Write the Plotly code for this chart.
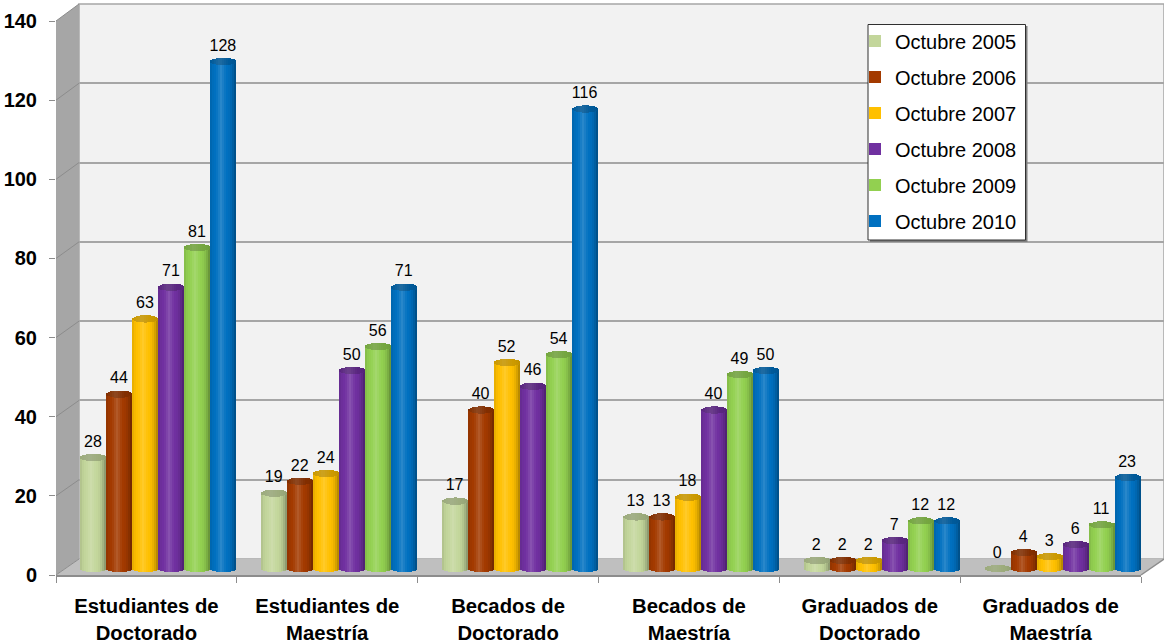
import plotly.graph_objects as go

categories = ["Estudiantes de<br>Doctorado", "Estudiantes de<br>Maestría", "Becados de<br>Doctorado",
              "Becados de<br>Maestría", "Graduados de<br>Doctorado", "Graduados de<br>Maestría"]
series_names = ["Octubre 2005", "Octubre 2006", "Octubre 2007", "Octubre 2008", "Octubre 2009", "Octubre 2010"]
oct_2005 = [28, 19, 17, 13, 2, 0]
oct_2006 = [44, 22, 40, 13, 2, 4]
oct_2007 = [63, 24, 52, 18, 2, 3]
oct_2008 = [71, 50, 46, 40, 7, 6]
oct_2009 = [81, 56, 54, 49, 12, 11]
oct_2010 = [128, 71, 116, 50, 12, 23]
series_values = [oct_2005, oct_2006, oct_2007, oct_2008, oct_2009, oct_2010]
colors = ["#c3d69b", "#a33a00", "#ffc000", "#7030a0", "#92d050", "#0070c0"]
y_ticks = [0, 20, 40, 60, 80, 100, 120, 140]

W, H = 1164, 642
FRONT_L, FRONT_R, FRONT_T, FRONT_B = 56, 1141, 21, 575
BACK_L, BACK_R, BACK_T, BACK_B = 79, 1164, 4, 559
BAR_L, BAR_R = 67.5, 1152.5
BAR_Y0, PX_PER_UNIT = 568, 3.96
CAP_PX, BAR_PX, STRIPS = 3.6, 26, 13

def fx(px): return px / W
def fy(px): return 1 - px / H
def path(points):
    return "M " + " L ".join(f"{fx(x)},{fy(y)}" for x, y in points) + " Z"
def mix(c, other, a):
    rgb = [int(c[i:i + 2], 16) for i in (1, 3, 5)]
    return "rgb(" + ",".join(str(round(v + (o - v) * a)) for v, o in zip(rgb, other)) + ")"
def shade(c, t, darker=0.0):
    # t in [-1, 1]: position across the cylinder
    d = abs(t + 0.15)
    if d < 0.4:
        col = mix(c, (255, 255, 255), 0.16 * (1 - d / 0.4))
    else:
        col = mix(c, (0, 0, 0), 0.34 * ((d - 0.4) / 0.75) ** 2)
    if darker:
        rgb = [int(v) for v in col[4:-1].split(",")]
        col = "rgb(" + ",".join(str(round(v * (1 - darker))) for v in rgb) + ")"
    return col

fig = go.Figure()
x_idx = list(range(len(categories)))
unit_w = len(categories) / (BAR_R - BAR_L)  # axis units per pixel
bar_w = BAR_PX * unit_w
cap_units = CAP_PX / PX_PER_UNIT
strip_w = bar_w / STRIPS

# carriers that make the back wall and front axes subplots exist
fig.add_trace(go.Scatter(x=[0.5], y=[0], mode="none", showlegend=False, xaxis="x", yaxis="y", hoverinfo="skip"))
fig.add_trace(go.Scatter(x=x_idx, y=oct_2010, mode="none", showlegend=False, xaxis="x2", yaxis="y2", hoverinfo="skip"))

for s, (name, vals, col) in enumerate(zip(series_names, series_values, colors)):
    start = (s - 3) * bar_w
    fig.add_trace(go.Bar(x=x_idx, y=vals, name=name, legendgroup=name, marker=dict(color=col, line_width=0),
                         width=bar_w, offset=start, xaxis="x3", yaxis="y3", hoverinfo="skip"))
    for k in range(STRIPS):
        t = (k + 0.5) / STRIPS * 2 - 1
        h = cap_units * (1 - t * t) ** 0.5
        off = start + k * strip_w
        extra = strip_w * 0.4 if k < STRIPS - 1 else 0
        fig.add_trace(go.Bar(x=x_idx, y=[v + h for v in vals], base=[-h] * len(vals), width=strip_w + extra, offset=off,
                             marker=dict(color=shade(col, t), line_width=0), showlegend=False, legendgroup=name,
                             xaxis="x3", yaxis="y3", hoverinfo="skip"))
    for k in range(STRIPS):
        t = (k + 0.5) / STRIPS * 2 - 1
        h = cap_units * (1 - t * t) ** 0.5
        off = start + k * strip_w
        extra = strip_w * 0.4 if k < STRIPS - 1 else 0
        fig.add_trace(go.Bar(x=x_idx, y=[2 * h] * len(vals), base=[v - h for v in vals], width=strip_w + extra, offset=off,
                             marker=dict(color=shade(col, t * 0.6, darker=0.2), line_width=0), showlegend=False,
                             legendgroup=name, xaxis="x3", yaxis="y3", hoverinfo="skip"))

for s, (name, vals) in enumerate(zip(series_names, series_values)):
    fig.add_trace(go.Scatter(x=[i + (s - 2.5) * bar_w for i in x_idx], y=[v + 1.6 for v in vals], mode="text",
                             text=[str(v) for v in vals],
                             textposition="top center", textfont=dict(family="Liberation Sans", size=16, color="black"),
                             showlegend=False, xaxis="x3", yaxis="y3", hoverinfo="skip", cliponaxis=False))

shapes = [
    dict(type="path", xref="paper", yref="paper", layer="below", fillcolor="#f2f2f2", line=dict(color="#a6a6a6", width=1.5),
         path=path([(BACK_L, BACK_T), (BACK_R, BACK_T), (BACK_R, BACK_B), (BACK_L, BACK_B)])),
    dict(type="path", xref="paper", yref="paper", layer="below", fillcolor="#a6a6a6", line_width=0,
         path=path([(FRONT_L, FRONT_T), (BACK_L, BACK_T), (BACK_L, BACK_B), (FRONT_L, FRONT_B)])),
    dict(type="path", xref="paper", yref="paper", layer="below", fillcolor="#bfbfbf", line_width=0,
         path=path([(FRONT_L, FRONT_B), (BACK_L, BACK_B), (BACK_R, BACK_B), (FRONT_R, FRONT_B)])),
    dict(type="line", xref="paper", yref="paper", layer="below", line=dict(color="#8c8c8c", width=1.5),
         x0=fx(FRONT_R), y0=fy(FRONT_B), x1=fx(BACK_R), y1=fy(BACK_B)),
    dict(type="rect", xref="paper", yref="paper", layer="above", fillcolor="#7f7f7f", line_width=0,
         x0=fx(870), x1=fx(1027.5), y0=fy(26), y1=fy(242)),
    dict(type="rect", xref="paper", yref="paper", layer="above", fillcolor="white", line=dict(color="#303030", width=1),
         x0=fx(868), x1=fx(1025.5), y0=fy(24.5), y1=fy(240)),
]
for v in y_ticks:
    frac = v / y_ticks[-1]
    yf = FRONT_B + (FRONT_T - FRONT_B) * frac
    yb = BACK_B + (BACK_T - BACK_B) * frac
    shapes.append(dict(type="line", xref="paper", yref="paper", layer="below", line=dict(color="#8c8c8c", width=1),
                       x0=fx(FRONT_L), y0=fy(yf), x1=fx(BACK_L), y1=fy(yb)))

fig.update_layout(
    width=W, height=H, margin=dict(l=0, r=0, t=0, b=0, autoexpand=False), paper_bgcolor="white", plot_bgcolor="rgba(0,0,0,0)",
    barmode="overlay", shapes=shapes, bargap=0,
    xaxis=dict(domain=[fx(BACK_L), fx(BACK_R)], range=[0, 1], showgrid=False, zeroline=False, showticklabels=False,
               ticks="", showline=False, anchor="y"),
    yaxis=dict(domain=[fy(BACK_B), fy(BACK_T)], range=[0, 140], tickmode="array", tickvals=y_ticks[1:], showgrid=True,
               gridcolor="#a6a6a6", gridwidth=2, showticklabels=False, ticks="", showline=False, zeroline=False, anchor="x"),
    xaxis2=dict(domain=[fx(FRONT_L), fx(FRONT_R)], range=[-0.5, 5.5], anchor="y2", showline=True, linecolor="#8c8c8c",
                linewidth=1.5, showgrid=False, zeroline=False, tickmode="array", tickvals=x_idx, ticktext=categories,
                ticks="", ticklabelstandoff=12,
                minor=dict(tickmode="array", tickvals=[i - 0.5 for i in range(7)], ticks="outside", ticklen=6,
                           tickcolor="#8c8c8c", tickwidth=1, showgrid=False),
                tickfont=dict(family="Liberation Sans", size=20.3, color="black", weight=700)),
    yaxis2=dict(domain=[fy(FRONT_B), fy(FRONT_T)], range=[0, 140], anchor="x2", tickmode="array", tickvals=y_ticks,
                showgrid=False, zeroline=False, showline=False, ticks="outside", ticklen=6, tickcolor="#8c8c8c",
                ticklabelstandoff=8,
                tickfont=dict(family="Liberation Sans", size=20, color="black", weight=700)),
    xaxis3=dict(domain=[fx(BAR_L), fx(BAR_R)], range=[-0.5, 5.5], visible=False, anchor="y3"),
    yaxis3=dict(domain=[fy(BAR_Y0 + 2 * PX_PER_UNIT), fy(BAR_Y0 - 140 * PX_PER_UNIT)], range=[-2, 140], visible=False, anchor="x3"),
    legend=dict(x=fx(855), y=fy(21.5), xanchor="left", yanchor="top", bgcolor="rgba(0,0,0,0)", borderwidth=0,
                tracegroupgap=7, font=dict(family="Liberation Sans", size=20, color="black"), traceorder="grouped"),
    font=dict(family="Liberation Sans"),
)

fig.write_html("out.html", config=dict(displayModeBar=False),
               post_script="document.body.style.margin='0';")
